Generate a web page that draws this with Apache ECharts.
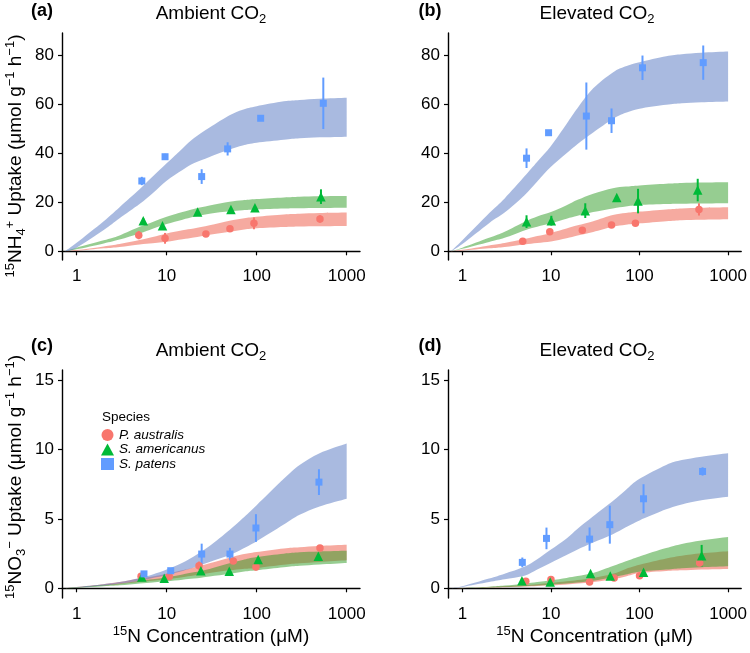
<!DOCTYPE html>
<html><head><meta charset="utf-8">
<script src="https://cdn.jsdelivr.net/npm/echarts@6/dist/echarts.min.js"></script>
<style>html,body{margin:0;padding:0;background:#fff}#c{width:750px;height:653px}</style>
</head><body><div id="c"></div><script>
// ---- data ----
// ribbon sample concentrations (µM)
const ribX = [0.74, 1, 2, 3, 5, 7, 10, 15, 20, 30, 50, 70, 100, 200, 300, 500, 1000];
// (a) NH4+, ambient CO2
const aP_lo = [0, 0.2, 1.2, 1.8, 2.8, 3.3, 3.9, 4.9, 5.6, 6.8, 8.0, 8.8, 9.4, 9.9, 10.1, 10.2, 10.3];
const aP_hi = [0, 0.5, 2.0, 3.0, 4.6, 5.8, 7.3, 8.6, 9.3, 10.6, 12.5, 13.4, 14.1, 15.0, 15.3, 15.6, 15.8];
const aA_lo = [0, 0.8, 3.2, 4.8, 7.3, 9.2, 11.1, 12.9, 14.1, 15.3, 16.3, 16.8, 17.1, 17.5, 17.6, 17.7, 17.8];
const aA_hi = [0, 1.5, 4.5, 6.5, 10.0, 12.0, 14.1, 16.0, 17.3, 18.7, 20.2, 20.8, 21.3, 22.0, 22.3, 22.5, 22.6];
const aS_lo = [0, 1.5, 8.7, 13.5, 19.3, 23.7, 28.8, 33.2, 35.9, 38.5, 41.5, 43.2, 44.3, 45.5, 46.1, 46.5, 46.8];
const aS_hi = [0, 3.5, 12.3, 18.0, 25.3, 30.5, 35.9, 42.0, 46.1, 50.5, 55.5, 57.8, 59.2, 61.2, 61.8, 62.3, 62.7];
// (b) NH4+, elevated CO2
const bP_lo = [0, 0.3, 1.2, 1.8, 2.8, 3.4, 4.0, 5.3, 6.4, 7.9, 10.0, 10.8, 11.4, 12.3, 12.7, 12.9, 13.1];
const bP_hi = [0, 0.6, 2.4, 3.4, 5.0, 6.2, 7.5, 9.3, 10.6, 12.3, 14.8, 15.6, 16.2, 17.1, 17.5, 17.8, 18.0];
const bA_lo = [0, 1.0, 3.8, 5.5, 8.5, 10.0, 11.4, 13.3, 14.5, 16.0, 17.5, 18.3, 18.9, 19.3, 19.4, 19.5, 19.6];
const bA_hi = [0, 1.5, 5.5, 8.0, 12.0, 14.2, 16.0, 18.8, 21.0, 23.5, 25.7, 26.4, 26.9, 27.6, 27.9, 28.1, 28.2];
const bS_lo = [0, 3.0, 11.5, 15.8, 22.8, 28.5, 34.5, 40.0, 43.8, 48.5, 54.0, 56.5, 58.2, 59.8, 60.4, 60.8, 61.1];
const bS_hi = [0, 4.5, 15.5, 21.6, 30.5, 36.6, 43.0, 52.0, 58.5, 66.5, 73.0, 75.5, 77.2, 79.6, 80.4, 81.0, 81.5];
// (c) NO3-, ambient CO2
const cP_lo = [0, 0.05, 0.2, 0.3, 0.45, 0.55, 0.65, 0.8, 0.92, 1.1, 1.3, 1.4, 1.47, 1.7, 1.8, 1.9, 2.02];
const cP_hi = [0, 0.1, 0.3, 0.45, 0.7, 0.85, 1.05, 1.3, 1.5, 1.8, 2.2, 2.45, 2.62, 2.88, 2.97, 3.06, 3.14];
const cA_lo = [0, 0.03, 0.15, 0.22, 0.35, 0.42, 0.5, 0.62, 0.7, 0.85, 1.05, 1.2, 1.3, 1.52, 1.62, 1.72, 1.83];
const cA_hi = [0, 0.07, 0.25, 0.35, 0.55, 0.65, 0.8, 1.0, 1.15, 1.4, 1.8, 2.05, 2.26, 2.5, 2.6, 2.66, 2.71];
const cS_lo = [0, 0.05, 0.2, 0.35, 0.55, 0.75, 0.95, 1.25, 1.5, 1.9, 2.4, 2.85, 3.4, 4.6, 5.3, 5.9, 6.46];
const cS_hi = [0, 0.1, 0.3, 0.45, 0.75, 1.0, 1.35, 1.85, 2.3, 3.05, 4.2, 5.05, 6.0, 7.9, 8.9, 9.75, 10.45];
// (d) NO3-, elevated CO2
const dP_lo = [0, 0.01, 0.05, 0.08, 0.13, 0.17, 0.22, 0.28, 0.34, 0.45, 0.65, 0.85, 1.1, 1.25, 1.3, 1.36, 1.4];
const dP_hi = [0, 0.02, 0.09, 0.14, 0.23, 0.3, 0.38, 0.5, 0.6, 0.75, 1.05, 1.4, 1.7, 2.15, 2.35, 2.52, 2.67];
const dA_lo = [0, 0.01, 0.05, 0.09, 0.15, 0.2, 0.26, 0.34, 0.42, 0.55, 0.8, 1.0, 1.2, 1.35, 1.45, 1.52, 1.59];
const dA_hi = [0, 0.03, 0.12, 0.2, 0.33, 0.45, 0.58, 0.75, 0.88, 1.1, 1.6, 1.95, 2.3, 2.9, 3.2, 3.45, 3.7];
const dS_lo = [0, 0.1, 0.45, 0.65, 0.9, 1.35, 1.85, 2.4, 2.8, 3.3, 3.9, 4.4, 4.9, 5.7, 6.05, 6.35, 6.6];
const dS_hi = [0, 0.15, 0.7, 1.05, 1.55, 2.1, 2.8, 3.6, 4.3, 5.2, 6.3, 7.1, 7.9, 8.9, 9.25, 9.5, 9.75];

// observed points: [concentration, mean, s.e.]
const aP_pts = [[4.9,6.6,1.7],[9.6,5.3,2.2],[27.3,7.1,0.8],[50.5,9.2,0.8],[93.3,11.4,2.4],[505,13.2,1.5]];
const aA_pts = [[5.5,12.5,1.0],[9.0,10.4,0.6],[22.1,16.0,0.6],[51.8,17.1,0.6],[95.7,17.8,0.8],[518,22.3,3.0]];
const aS_pts = [[5.3,28.7,1.7],[9.6,38.6,1.2],[24.5,30.5,3.0],[47.6,41.8,2.7],[110.8,54.3,0.8],[550,60.4,10.5]];
const bP_pts = [[4.8,4.1,0.5],[9.7,8.0,0.6],[22.6,8.6,0.8],[48.3,10.7,0.6],[89.9,11.4,0.7],[469,17.1,2.5]];
const bA_pts = [[5.3,12.1,2.6],[10.1,12.5,2.0],[24.4,16.6,3.0],[55.3,22.0,0.5],[96.2,20.5,5.0],[454,25.0,4.6]];
const bS_pts = [[5.3,38.0,4.0],[9.4,48.4,0.6],[25.1,55.2,13.7],[48.3,53.3,5.0],[108,74.9,5.0],[524,77.0,7.0]];
const cP_pts = [[5.2,0.87,0.1],[10.7,0.86,0.1],[22.9,1.63,0.3],[55,1.97,0.15],[98.2,1.54,0.25],[505,2.91,0.1]];
const cA_pts = [[5.3,0.82,0.1],[9.4,0.72,0.08],[24,1.27,0.1],[49.6,1.23,0.1],[104,2.07,0.15],[484,2.31,0.1]];
const cS_pts = [[5.6,1.04,0.1],[11.1,1.27,0.1],[24.5,2.47,0.75],[50.5,2.47,0.45],[98.2,4.35,1.0],[492,7.66,0.93]];
const dP_pts = [[5.2,0.51,0.05],[10,0.63,0.08],[27.3,0.46,0.05],[51.7,0.75,0.05],[100,0.91,0.08],[478,1.83,0.2]];
const dA_pts = [[4.7,0.55,0.05],[9.8,0.46,0.05],[28,1.06,0.1],[46.7,0.89,0.08],[111,1.15,0.1],[503,2.35,0.78]];
const dS_pts = [[4.75,1.87,0.35],[8.9,3.6,0.78],[27.3,3.55,0.84],[46.2,4.59,1.37],[111,6.46,1.05],[515,8.43,0.3]];

const xTicks = [1, 10, 100, 1000];
const yTicksNH4 = [0, 20, 40, 60, 80];
const yTicksNO3 = [0, 5, 10, 15];
const speciesNames = ['P. australis', 'S. americanus', 'S. patens'];

// ---- styling ----
const FONT = 'Liberation Sans, Arial, Helvetica, sans-serif';
const ptColor = ['#F8766D', '#00BA38', '#619CFF'];
const bandFill = ['rgba(237,85,65,0.5)', 'rgba(45,155,35,0.5)', 'rgba(83,117,193,0.5)'];
const symbols = ['circle', 'triangle', 'rect'];
const symSize = [7.5, 9.5, 7];

const chart = echarts.init(document.getElementById('c'), null, {renderer: 'canvas'});

const grids = [
  {left: 62, top: 33, width: 298, height: 227},
  {left: 448, top: 33, width: 298, height: 227},
  {left: 62, top: 370, width: 298, height: 228},
  {left: 448, top: 370, width: 298, height: 228}
];

const supRich = {
  n: {fontSize: 19, lineHeight: 24, verticalAlign: 'middle', fontFamily: FONT, color: '#000', fill: '#000'},
  sup: {fontSize: 13, lineHeight: 14, verticalAlign: 'top', fontFamily: FONT, color: '#000', fill: '#000'},
  sub: {fontSize: 13, lineHeight: 14, verticalAlign: 'bottom', fontFamily: FONT, color: '#000', fill: '#000'}
};

function xAxis(i, withName) {
  return {
    type: 'log', gridIndex: i, min: 0.688, max: 1406, logBase: 10,
    axisLine: {show: true, lineStyle: {color: '#000', width: 1.4}},
    axisTick: {show: true, length: 4, lineStyle: {color: '#000', width: 1.2}, customValues: xTicks},
    axisLabel: {show: true, customValues: xTicks, fontSize: 17, fontFamily: FONT, color: '#000', margin: 8,
      formatter: v => String(Math.round(v))},
    splitLine: {show: false},
    name: withName ? '{sup|15}{n|N Concentration (μM)}' : '',
    nameLocation: 'middle', nameGap: 27,
    nameTextStyle: {rich: supRich}
  };
}
function yAxis(i, ticks, mn, mx) {
  return {
    type: 'value', gridIndex: i, min: mn, max: mx,
    axisLine: {show: true, lineStyle: {color: '#000', width: 1.4}},
    axisTick: {show: true, length: 4, lineStyle: {color: '#000', width: 1.2}, customValues: ticks},
    axisLabel: {show: true, customValues: ticks, fontSize: 17, fontFamily: FONT, color: '#000', margin: 8},
    splitLine: {show: false}
  };
}

// smooth path through pixel points (Catmull-Rom -> cubic Bezier), drawing only
function curveSegs(p) {
  let d = '';
  for (let i = 0; i < p.length - 1; i++) {
    const p0 = p[i - 1] || p[i], p1 = p[i], p2 = p[i + 1], p3 = p[i + 2] || p[i + 1];
    const c1 = [p1[0] + (p2[0] - p0[0]) / 6, p1[1] + (p2[1] - p0[1]) / 6];
    const c2 = [p2[0] - (p3[0] - p1[0]) / 6, p2[1] - (p3[1] - p1[1]) / 6];
    d += 'C' + c1[0] + ' ' + c1[1] + ' ' + c2[0] + ' ' + c2[1] + ' ' + p2[0] + ' ' + p2[1];
  }
  return d;
}
function ribbon(gi, lo, hi, k) {
  return {
    type: 'custom', xAxisIndex: gi, yAxisIndex: gi, silent: true, z: 1,
    data: ribX.map((x, i) => [x, lo[i], hi[i]]),
    encode: {x: 0, y: [1, 2]},
    renderItem: function (params, api) {
      if (params.dataIndex !== 0) return {type: 'group', children: []};
      const up = ribX.map((x, i) => api.coord([x, hi[i]]));
      const dn = ribX.map((x, i) => api.coord([x, lo[i]])).reverse();
      const d = 'M' + up[0][0] + ' ' + up[0][1] + curveSegs(up) +
        'L' + dn[0][0] + ' ' + dn[0][1] + curveSegs(dn) + 'Z';
      return {type: 'path', shape: {pathData: d}, style: {fill: bandFill[k], stroke: null}};
    }
  };
}
function errbars(gi, pts, k) {
  return {
    type: 'custom', xAxisIndex: gi, yAxisIndex: gi, silent: true, z: 3,
    data: pts.map(p => [p[0], p[1], p[1] - p[2], p[1] + p[2]]),
    encode: {x: 0, y: 1},
    renderItem: function (params, api) {
      const a = api.coord([api.value(0), api.value(2)]);
      const b = api.coord([api.value(0), api.value(3)]);
      return {type: 'line', shape: {x1: a[0], y1: a[1], x2: b[0], y2: b[1]},
        style: {stroke: ptColor[k], lineWidth: 2}};
    }
  };
}
function points(gi, pts, k) {
  return {
    type: 'scatter', name: speciesNames[k], xAxisIndex: gi, yAxisIndex: gi, z: 4,
    symbol: symbols[k], symbolSize: symSize[k],
    data: pts.map(p => [p[0], p[1]]),
    itemStyle: {color: ptColor[k], opacity: 1}
  };
}

const panels = [
  {bands: [[aP_lo, aP_hi], [aA_lo, aA_hi], [aS_lo, aS_hi]], pts: [aP_pts, aA_pts, aS_pts]},
  {bands: [[bP_lo, bP_hi], [bA_lo, bA_hi], [bS_lo, bS_hi]], pts: [bP_pts, bA_pts, bS_pts]},
  {bands: [[cP_lo, cP_hi], [cA_lo, cA_hi], [cS_lo, cS_hi]], pts: [cP_pts, cA_pts, cS_pts]},
  {bands: [[dP_lo, dP_hi], [dA_lo, dA_hi], [dS_lo, dS_hi]], pts: [dP_pts, dA_pts, dS_pts]}
];
const series = [];
panels.forEach((p, gi) => {
  p.bands.forEach((b, k) => series.push(ribbon(gi, b[0], b[1], k)));
  p.pts.forEach((pt, k) => series.push(errbars(gi, pt, k)));
  p.pts.forEach((pt, k) => series.push(points(gi, pt, k)));
});

const nh4Name = '{sup|15}{n|NH}{sub|4}{sup|+}{n| Uptake (μmol g}{sup|−1}{n| h}{sup|−1}{n|)}';
const no3Name = '{sup|15}{n|NO}{sub|3}{sup|−}{n| Uptake (μmol g}{sup|−1}{n| h}{sup|−1}{n|)}';

function txt(x, y, text, opts, rot) {
  return {type: 'text', x: x, y: y, silent: true, rotation: rot || 0,
    style: Object.assign({text: text, align: 'center', verticalAlign: 'middle', fill: '#000'}, opts)};
}

const option = {
  animation: false,
  backgroundColor: '#fff',
  grid: grids,
  xAxis: [xAxis(0, false), xAxis(1, false), xAxis(2, true), xAxis(3, true)],
  yAxis: [yAxis(0, yTicksNH4, -3.55, 89.1), yAxis(1, yTicksNH4, -3.55, 89.1),
          yAxis(2, yTicksNO3, -0.7, 15.75), yAxis(3, yTicksNO3, -0.7, 15.75)],
  legend: {
    data: [{name: speciesNames[0], icon: 'circle'}, {name: speciesNames[1], icon: 'triangle'}, {name: speciesNames[2], icon: 'rect'}],
    orient: 'vertical', left: 96, top: 423, itemWidth: 13, itemHeight: 12, itemGap: 0.5,
    selectedMode: false,
    textStyle: {fontStyle: 'italic', fontSize: 13.5, fontFamily: FONT, color: '#000', lineHeight: 13}
  },
  graphic: [
    txt(42, 11, '(a)', {font: 'bold 18px ' + FONT}),
    txt(430, 11, '(b)', {font: 'bold 18px ' + FONT}),
    txt(42, 346, '(c)', {font: 'bold 18px ' + FONT}),
    txt(430, 346, '(d)', {font: 'bold 18px ' + FONT}),
    txt(211, 14, '{n|Ambient CO}{sub|2}', {rich: supRich}),
    txt(597, 14, '{n|Elevated CO}{sub|2}', {rich: supRich}),
    txt(211, 351, '{n|Ambient CO}{sub|2}', {rich: supRich}),
    txt(597, 351, '{n|Elevated CO}{sub|2}', {rich: supRich}),
    txt(16, 156, nh4Name, {rich: supRich}, Math.PI / 2),
    txt(16, 477, no3Name, {rich: supRich}, Math.PI / 2),
    txt(102, 417, 'Species', {font: '13.5px ' + FONT, align: 'left'})
  ],
  series: series
};
chart.setOption(option);
</script></body></html>
